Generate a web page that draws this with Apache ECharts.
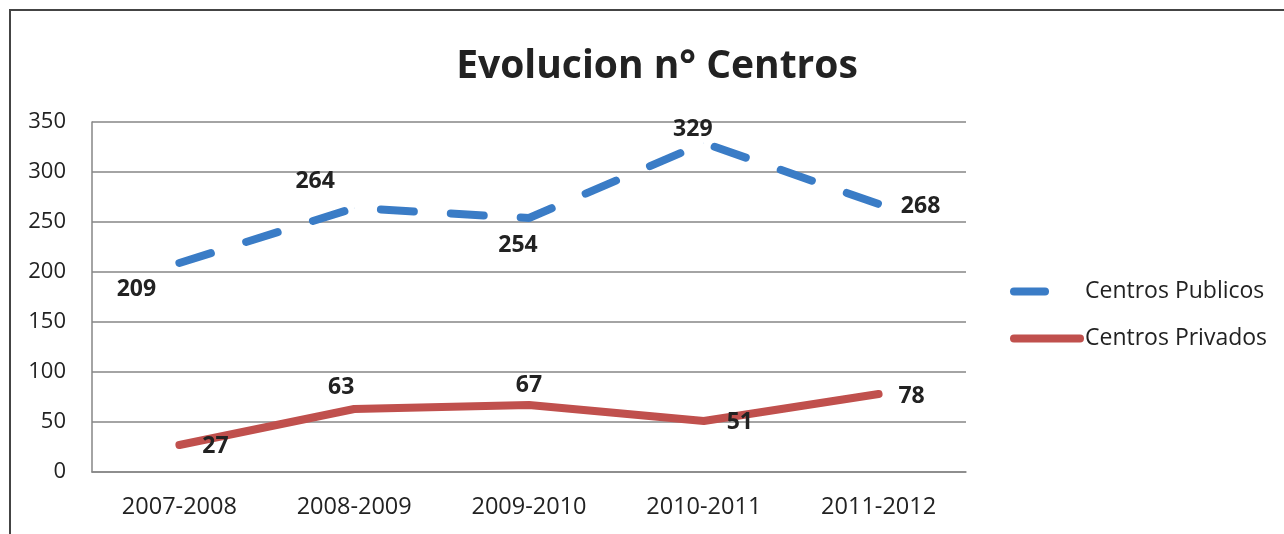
<!DOCTYPE html>
<html>
<head>
<meta charset="utf-8">
<script src="https://cdn.jsdelivr.net/npm/echarts@6/dist/echarts.min.js"></script>
<style>
html,body{margin:0;padding:0;background:#fff;}
#chart{width:1284px;height:534px;}
</style>
</head>
<body>
<div id="chart"></div>
<script>
const categories = ['2007-2008', '2008-2009', '2009-2010', '2010-2011', '2011-2012'];
const publicos = [209, 264, 254, 329, 268];
const privados = [27, 63, 67, 51, 78];
const yTicks = { min: 0, max: 350, interval: 50 };

const FONT = '"Open Sans"';
const pubOffsets = [[-43, 26], [-39, -27], [-11, 27], [-11, -14], [42, 2]];
const privOffsets = [[36, 1], [-13, -22], [0, -20], [36, 1], [33, 2]];

function withLabels(vals, offs) {
  return vals.map((v, i) => ({
    value: v,
    label: { position: 'inside', offset: offs[i] }
  }));
}

const BLUE = '#3A7CC6';
const RED = '#C0504D';

const chart = echarts.init(document.getElementById('chart'), null, { renderer: 'canvas' });
chart.setOption({
  backgroundColor: '#ffffff',
  animation: false,
  title: {
    text: 'Evolucion n° Centros',
    left: 652, top: 42, textAlign: 'center',
    textStyle: { fontFamily: FONT, fontSize: 39, fontWeight: 'bold', color: '#222' }
  },
  graphic: [{
    type: 'rect', silent: true,
    shape: { x: 10, y: 10, width: 1400, height: 700 },
    style: { fill: 'none', stroke: '#444', lineWidth: 2 }
  }],
  legend: {
    orient: 'vertical', left: 1010, top: 280, padding: 0,
    itemWidth: 66, itemHeight: 22, itemGap: 24,
    itemStyle: { opacity: 0 },
    textStyle: { fontFamily: FONT, fontSize: 23, color: '#222' },
    data: [
      { name: 'Centros Publicos', lineStyle: { width: 8, type: [31, 100], cap: 'round', color: BLUE } },
      { name: 'Centros Privados', lineStyle: { width: 8, cap: 'round', color: RED } }
    ]
  },
  grid: { left: 92, right: 318, top: 122, bottom: 62, containLabel: false },
  xAxis: {
    type: 'category', data: categories, boundaryGap: true,
    axisLine: { lineStyle: { color: '#868686', width: 1.5 } },
    axisTick: { show: false },
    axisLabel: { fontFamily: FONT, fontSize: 23.5, color: '#222', margin: 23 }
  },
  yAxis: {
    type: 'value', min: yTicks.min, max: yTicks.max, interval: yTicks.interval,
    axisLine: { show: true, lineStyle: { color: '#868686', width: 1.5 } },
    axisTick: { show: false },
    splitLine: { lineStyle: { color: '#868686', width: 1.5 } },
    axisLabel: { fontFamily: FONT, fontSize: 22, color: '#222', margin: 26, padding: [3, 0, 0, 0] }
  },
  series: [
    {
      name: 'Centros Publicos', type: 'line',
      data: withLabels(publicos, pubOffsets),
      symbol: 'circle', symbolSize: 0.5, showSymbol: true,
      itemStyle: { color: BLUE },
      lineStyle: { color: BLUE, width: 8, type: [33, 37], cap: 'round' },
      label: { show: true, fontFamily: FONT, fontSize: 23, fontWeight: 'bold', color: '#222' },
      emphasis: { disabled: true }
    },
    {
      name: 'Centros Privados', type: 'line',
      data: withLabels(privados, privOffsets),
      symbol: 'circle', symbolSize: 0.5, showSymbol: true,
      itemStyle: { color: RED },
      lineStyle: { color: RED, width: 8, cap: 'round' },
      label: { show: true, fontFamily: FONT, fontSize: 23, fontWeight: 'bold', color: '#222' },
      emphasis: { disabled: true }
    }
  ]
});
</script>
</body>
</html>
